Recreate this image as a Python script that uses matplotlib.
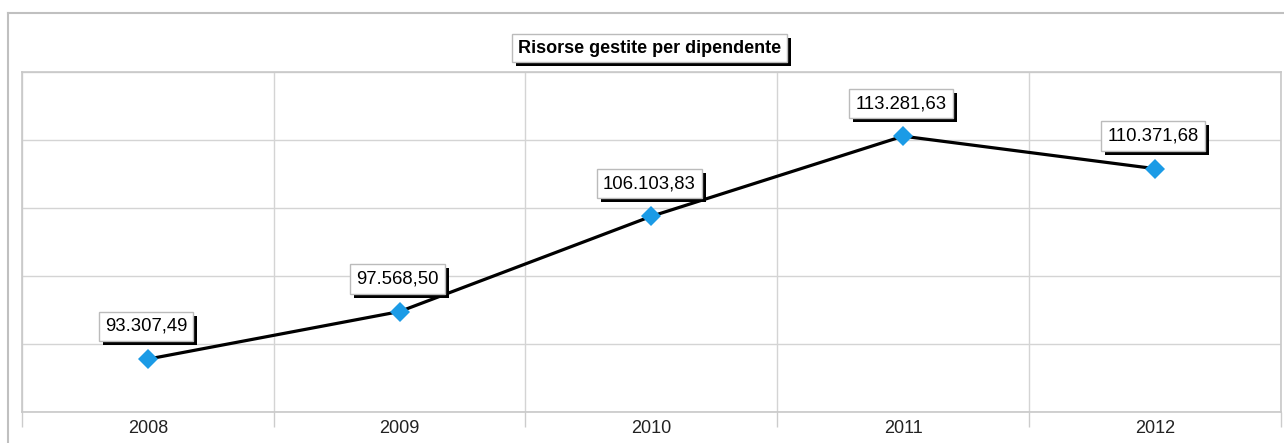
import numpy as np
import matplotlib.pyplot as plt
from matplotlib.lines import Line2D
from matplotlib.patches import Rectangle
from matplotlib.transforms import IdentityTransform

plt.rcParams['font.family'] = ['Liberation Sans', 'DejaVu Sans']

# dati del grafico
anni = ['2008', '2009', '2010', '2011', '2012']
risorse = [93307.49, 97568.50, 106103.83, 113281.63, 110371.68]
titolo = 'Risorse gestite per dipendente'


def formato_it(v):
    # 93307.49 -> 93.307,49
    s = f'{v:,.2f}'
    return s.replace(',', 'X').replace('.', ',').replace('X', '.')


fig = plt.figure(figsize=(12.84, 4.43), dpi=100)
ax = fig.add_axes([0.01713, 0.06998, 0.98030, 0.76749])

x = np.arange(len(anni))
ax.plot(x, risorse, color='black', lw=2.3, zorder=3)
ax.plot(x, risorse, ls='none', marker='D', ms=10.2, color='#1b9be6',
        markeredgewidth=0, zorder=4)

ax.set_xlim(-0.5, len(anni) - 0.5)
ax.set_ylim(88570, 119030)
ax.set_yticks(np.linspace(88570, 119030, 6))
ax.set_yticklabels([])
ax.tick_params(axis='y', length=0)

ax.set_xticks(x)
ax.set_xticklabels(anni, fontsize=13, color='#222222')
ax.tick_params(axis='x', which='major', length=0, pad=6)
ax.set_xticks(np.arange(-0.5, len(anni)), minor=True)
ax.tick_params(axis='x', which='minor', length=11, width=1, color='#cccccc',
               direction='out')

ax.grid(True, axis='y', color='#d4d4d4', lw=1)
ax.grid(True, axis='x', which='minor', color='#d4d4d4', lw=1)
ax.grid(False, axis='x', which='major')
for sp in ax.spines.values():
    sp.set_color('#c8c8c8')
    sp.set_linewidth(1.2)

# etichette dei valori
etichette = []
for xi, v in zip(x, risorse):
    t = ax.annotate(formato_it(v), (xi, v), xytext=(-1.4, 23.5),
                    textcoords='offset points', ha='center', va='center',
                    fontsize=13.3, color='black', zorder=6,
                    bbox=dict(boxstyle='square,pad=0.33', fc='white',
                              ec='#bbbbbb', lw=1))
    etichette.append(t)

# titolo
tit = fig.text(0.5062, 0.8916, titolo, ha='center', va='center',
               fontsize=13, fontweight='bold', color='black', zorder=3,
               bbox=dict(boxstyle='square,pad=0.33', fc='white',
                         ec='#bbbbbb', lw=1))

# ombre nere sotto i riquadri (4 px a destra, 4 px in basso)
fig.canvas.draw()
renderer = fig.canvas.get_renderer()
for t in etichette:
    bb = t.get_bbox_patch().get_window_extent(renderer)
    ax.add_patch(Rectangle((bb.x0 + 4, bb.y0 - 4), bb.width, bb.height,
                           transform=IdentityTransform(), fc='black',
                           ec='none', zorder=5.5, clip_on=False))
bb = tit.get_bbox_patch().get_window_extent(renderer)
fig.add_artist(Rectangle((bb.x0 + 4, bb.y0 - 4), bb.width, bb.height,
                         transform=IdentityTransform(), fc='black',
                         ec='none', zorder=2))

# cornice esterna
fig.add_artist(Line2D([8 / 1284, 8 / 1284], [0, 1 - 12.5 / 443],
                      transform=fig.transFigure, color='#c0c0c0', lw=1.5))
fig.add_artist(Line2D([8 / 1284, 1], [1 - 12.5 / 443, 1 - 12.5 / 443],
                      transform=fig.transFigure, color='#c0c0c0', lw=1.5))

fig.savefig('out.png', dpi=100)
